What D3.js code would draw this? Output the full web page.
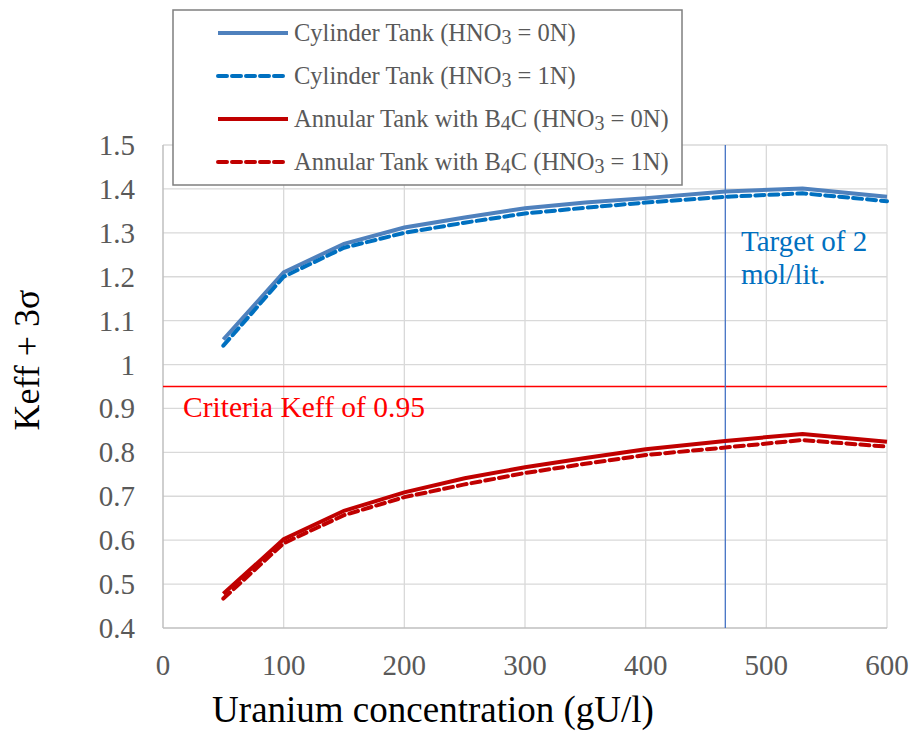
<!DOCTYPE html>
<html>
<head>
<meta charset="utf-8">
<script src="https://cdn.jsdelivr.net/npm/d3@7"></script>
<style>
  body { margin: 0; background: #fff; }
  text { font-family: "Liberation Serif", "Times New Roman", serif; }
</style>
</head>
<body>
<div id="chart"></div>
<script>
// data
var conc = [50, 100, 150, 200, 250, 300, 350, 400, 466, 530, 600];
var cyl0N = [1.057, 1.21, 1.275, 1.312, 1.335, 1.356, 1.369, 1.379, 1.394, 1.401, 1.382];
var cyl1N = [1.043, 1.200, 1.266, 1.300, 1.323, 1.344, 1.357, 1.369, 1.382, 1.390, 1.372];
var ann0N = [0.478, 0.602, 0.667, 0.709, 0.741, 0.766, 0.787, 0.807, 0.826, 0.842, 0.824];
var ann1N = [0.467, 0.593, 0.657, 0.698, 0.727, 0.753, 0.774, 0.794, 0.811, 0.828, 0.813];
var xTicks = [0, 100, 200, 300, 400, 500, 600];
var yTicks = [0.4, 0.5, 0.6, 0.7, 0.8, 0.9, 1, 1.1, 1.2, 1.3, 1.4, 1.5];
var criteria = 0.95;
var target = 466;

var width = 912, height = 733;
var plotLeft = 163, plotRight = 887, plotTop = 145, plotBottom = 628;

var svg = d3.select("#chart").append("svg")
    .attr("width", width)
    .attr("height", height);

var x = d3.scaleLinear().domain([0, 600]).range([plotLeft, plotRight]);
var y = d3.scaleLinear().domain([0.4, 1.5]).range([plotBottom, plotTop]);

// grid
svg.append("g").selectAll("line").data(xTicks.slice(1)).enter().append("line")
    .attr("x1", d => x(d)).attr("x2", d => x(d))
    .attr("y1", plotTop).attr("y2", plotBottom)
    .attr("stroke", "#d9d9d9").attr("stroke-width", 1.3);
svg.append("g").selectAll("line").data(yTicks.slice(1)).enter().append("line")
    .attr("x1", plotLeft).attr("x2", plotRight)
    .attr("y1", d => y(d)).attr("y2", d => y(d))
    .attr("stroke", "#d9d9d9").attr("stroke-width", 1.3);

// axis lines
svg.append("line").attr("x1", plotLeft).attr("x2", plotLeft).attr("y1", plotTop).attr("y2", plotBottom)
    .attr("stroke", "#bfbfbf").attr("stroke-width", 1.5);
svg.append("line").attr("x1", plotLeft).attr("x2", plotRight).attr("y1", plotBottom).attr("y2", plotBottom)
    .attr("stroke", "#bfbfbf").attr("stroke-width", 1.5);

// tick labels
svg.append("g").selectAll("text").data(yTicks).enter().append("text")
    .attr("x", 135).attr("y", d => y(d) + 10)
    .attr("text-anchor", "end")
    .attr("font-size", 29).attr("fill", "#595959")
    .text(d => d);
svg.append("g").selectAll("text").data(xTicks).enter().append("text")
    .attr("x", d => x(d)).attr("y", 675)
    .attr("text-anchor", "middle")
    .attr("font-size", 29).attr("fill", "#595959")
    .text(d => d);

// axis titles
svg.append("text").attr("x", 433).attr("y", 722)
    .attr("text-anchor", "middle").attr("font-size", 37).attr("fill", "#000")
    .text("Uranium concentration (gU/l)");
svg.append("text")
    .attr("transform", "translate(39,360) rotate(-90)")
    .attr("text-anchor", "middle").attr("font-size", 36).attr("fill", "#000")
    .text("Keff + 3σ");

// reference lines
svg.append("line").attr("x1", plotLeft).attr("x2", plotRight)
    .attr("y1", y(criteria)).attr("y2", y(criteria))
    .attr("stroke", "#ff0000").attr("stroke-width", 1.3);
svg.append("text").attr("x", 183).attr("y", 417)
    .attr("font-size", 29.5).attr("fill", "#ff0000")
    .text("Criteria Keff of 0.95");
svg.append("line").attr("x1", x(target)).attr("x2", x(target))
    .attr("y1", plotTop).attr("y2", plotBottom)
    .attr("stroke", "#4472c4").attr("stroke-width", 1.3);
svg.append("text").attr("x", 741).attr("y", 251)
    .attr("font-size", 29).attr("fill", "#0070c0")
    .text("Target of 2");
svg.append("text").attr("x", 741).attr("y", 284)
    .attr("font-size", 29).attr("fill", "#0070c0")
    .text("mol/lit.");

// series
var series = [
    { vals: cyl0N, color: "#4f81bd", dash: null, name: ["Cylinder Tank (HNO", "3", " = 0N)"] },
    { vals: cyl1N, color: "#0070c0", dash: "9,5", name: ["Cylinder Tank (HNO", "3", " = 1N)"] },
    { vals: ann0N, color: "#c00000", dash: null, name: ["Annular Tank with B", "4", "C (HNO", "3", " = 0N)"] },
    { vals: ann1N, color: "#c00000", dash: "9,5", name: ["Annular Tank with B", "4", "C (HNO", "3", " = 1N)"] }
];

var line = d3.line().x((d, i) => x(conc[i])).y(d => y(d));

series.forEach(function(s) {
    svg.append("path")
        .attr("d", line(s.vals))
        .attr("fill", "none")
        .attr("stroke", s.color)
        .attr("stroke-width", 4)
        .attr("stroke-linecap", s.dash ? "round" : "butt")
        .attr("stroke-dasharray", s.dash);
});

// legend
svg.append("rect").attr("x", 173).attr("y", 10).attr("width", 509).attr("height", 175)
    .attr("fill", "#fff").attr("stroke", "#7f7f7f").attr("stroke-width", 1.5);

series.forEach(function(s, i) {
    var ly = 33 + i * 43;
    svg.append("line").attr("x1", 218).attr("x2", 288).attr("y1", ly).attr("y2", ly)
        .attr("stroke", s.color).attr("stroke-width", 4)
        .attr("stroke-linecap", s.dash ? "round" : "butt")
        .attr("stroke-dasharray", s.dash);
    var t = svg.append("text").attr("x", 294).attr("y", ly + 8)
        .attr("font-size", 24.5).attr("fill", "#595959");
    s.name.forEach(function(part, j) {
        var sub = (j % 2 === 1);
        t.append("tspan")
            .attr("font-size", sub ? 20 : 24.5)
            .attr("dy", sub ? 3 : (j > 0 ? -3 : 0))
            .text(part);
    });
});
</script>
</body>
</html>
